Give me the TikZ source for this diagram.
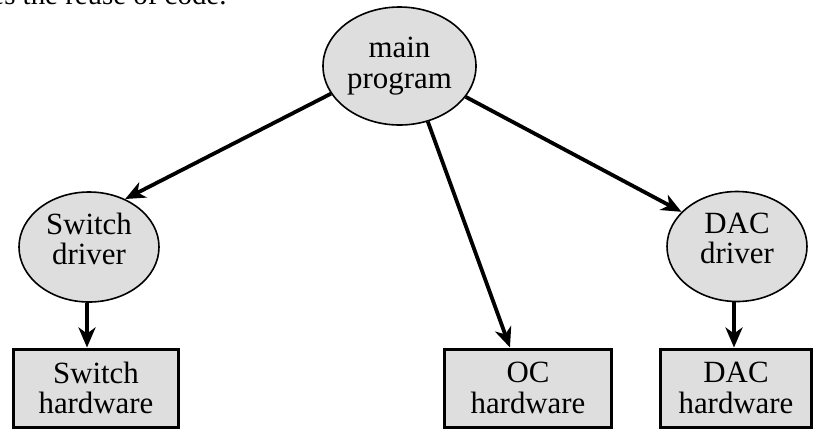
\documentclass[tikz,border=0pt]{standalone}
\usepackage{fontspec}
\setmainfont{Liberation Serif}
\usetikzlibrary{shapes.geometric,arrows.meta}
\definecolor{boxgray}{RGB}{222,222,222}

\begin{document}
\begin{tikzpicture}[x=1bp,y=-1bp,
        every node/.style={font=\fontsize{31}{30.5}\selectfont, align=center},
        module/.style={ellipse, draw, line width=1.6bp, fill=boxgray, inner sep=0pt,
            minimum width=140bp, minimum height=110bp},
        hwbox/.style={rectangle, draw, line width=3bp, fill=boxgray, inner sep=0pt,
            minimum height=78bp},
        arr/.style={line width=3.8bp, -{Stealth[length=20bp,width=17bp,inset=6bp]}}]
        \useasboundingbox (0,0) rectangle (816,430);
        \clip (0,0) rectangle (816,430);

        % last line of the text above, cut by the page
        \node[anchor=base east, font=\fontsize{29}{30}\selectfont] (caption) at (230,4) {es the reuse of code.};

        \node[module, minimum width=153bp, minimum height=118bp] (main) at (399.5,66) {main\\program};
        \node[module, text depth=17bp] (swdrv) at (89,247) {Switch\\driver};
        \node[module, text depth=17bp] (dacdrv) at (737,246.5) {DAC\\driver};

        \node[hwbox, minimum width=165bp] (swhw) at (96,388) {Switch\\hardware};
        \node[hwbox, minimum width=167bp] (ochw) at (528,388) {OC\\hardware};
        \node[hwbox, minimum width=151bp] (dachw) at (736,388) {DAC\\hardware};

        \draw[arr] (main.202) -- (swdrv.53);
        \draw[arr] (main.297) -- (ochw.114);
        \draw[arr] (main.335) -- (dacdrv.148);
        \draw[arr] ([xshift=-2bp]swdrv.south) -- ([xshift=-2bp]swdrv.south |- swhw.north);
        \draw[arr] ([xshift=-3bp]dacdrv.south) -- ([xshift=-3bp]dacdrv.south |- dachw.north);

    \end{tikzpicture}
\end{document}
